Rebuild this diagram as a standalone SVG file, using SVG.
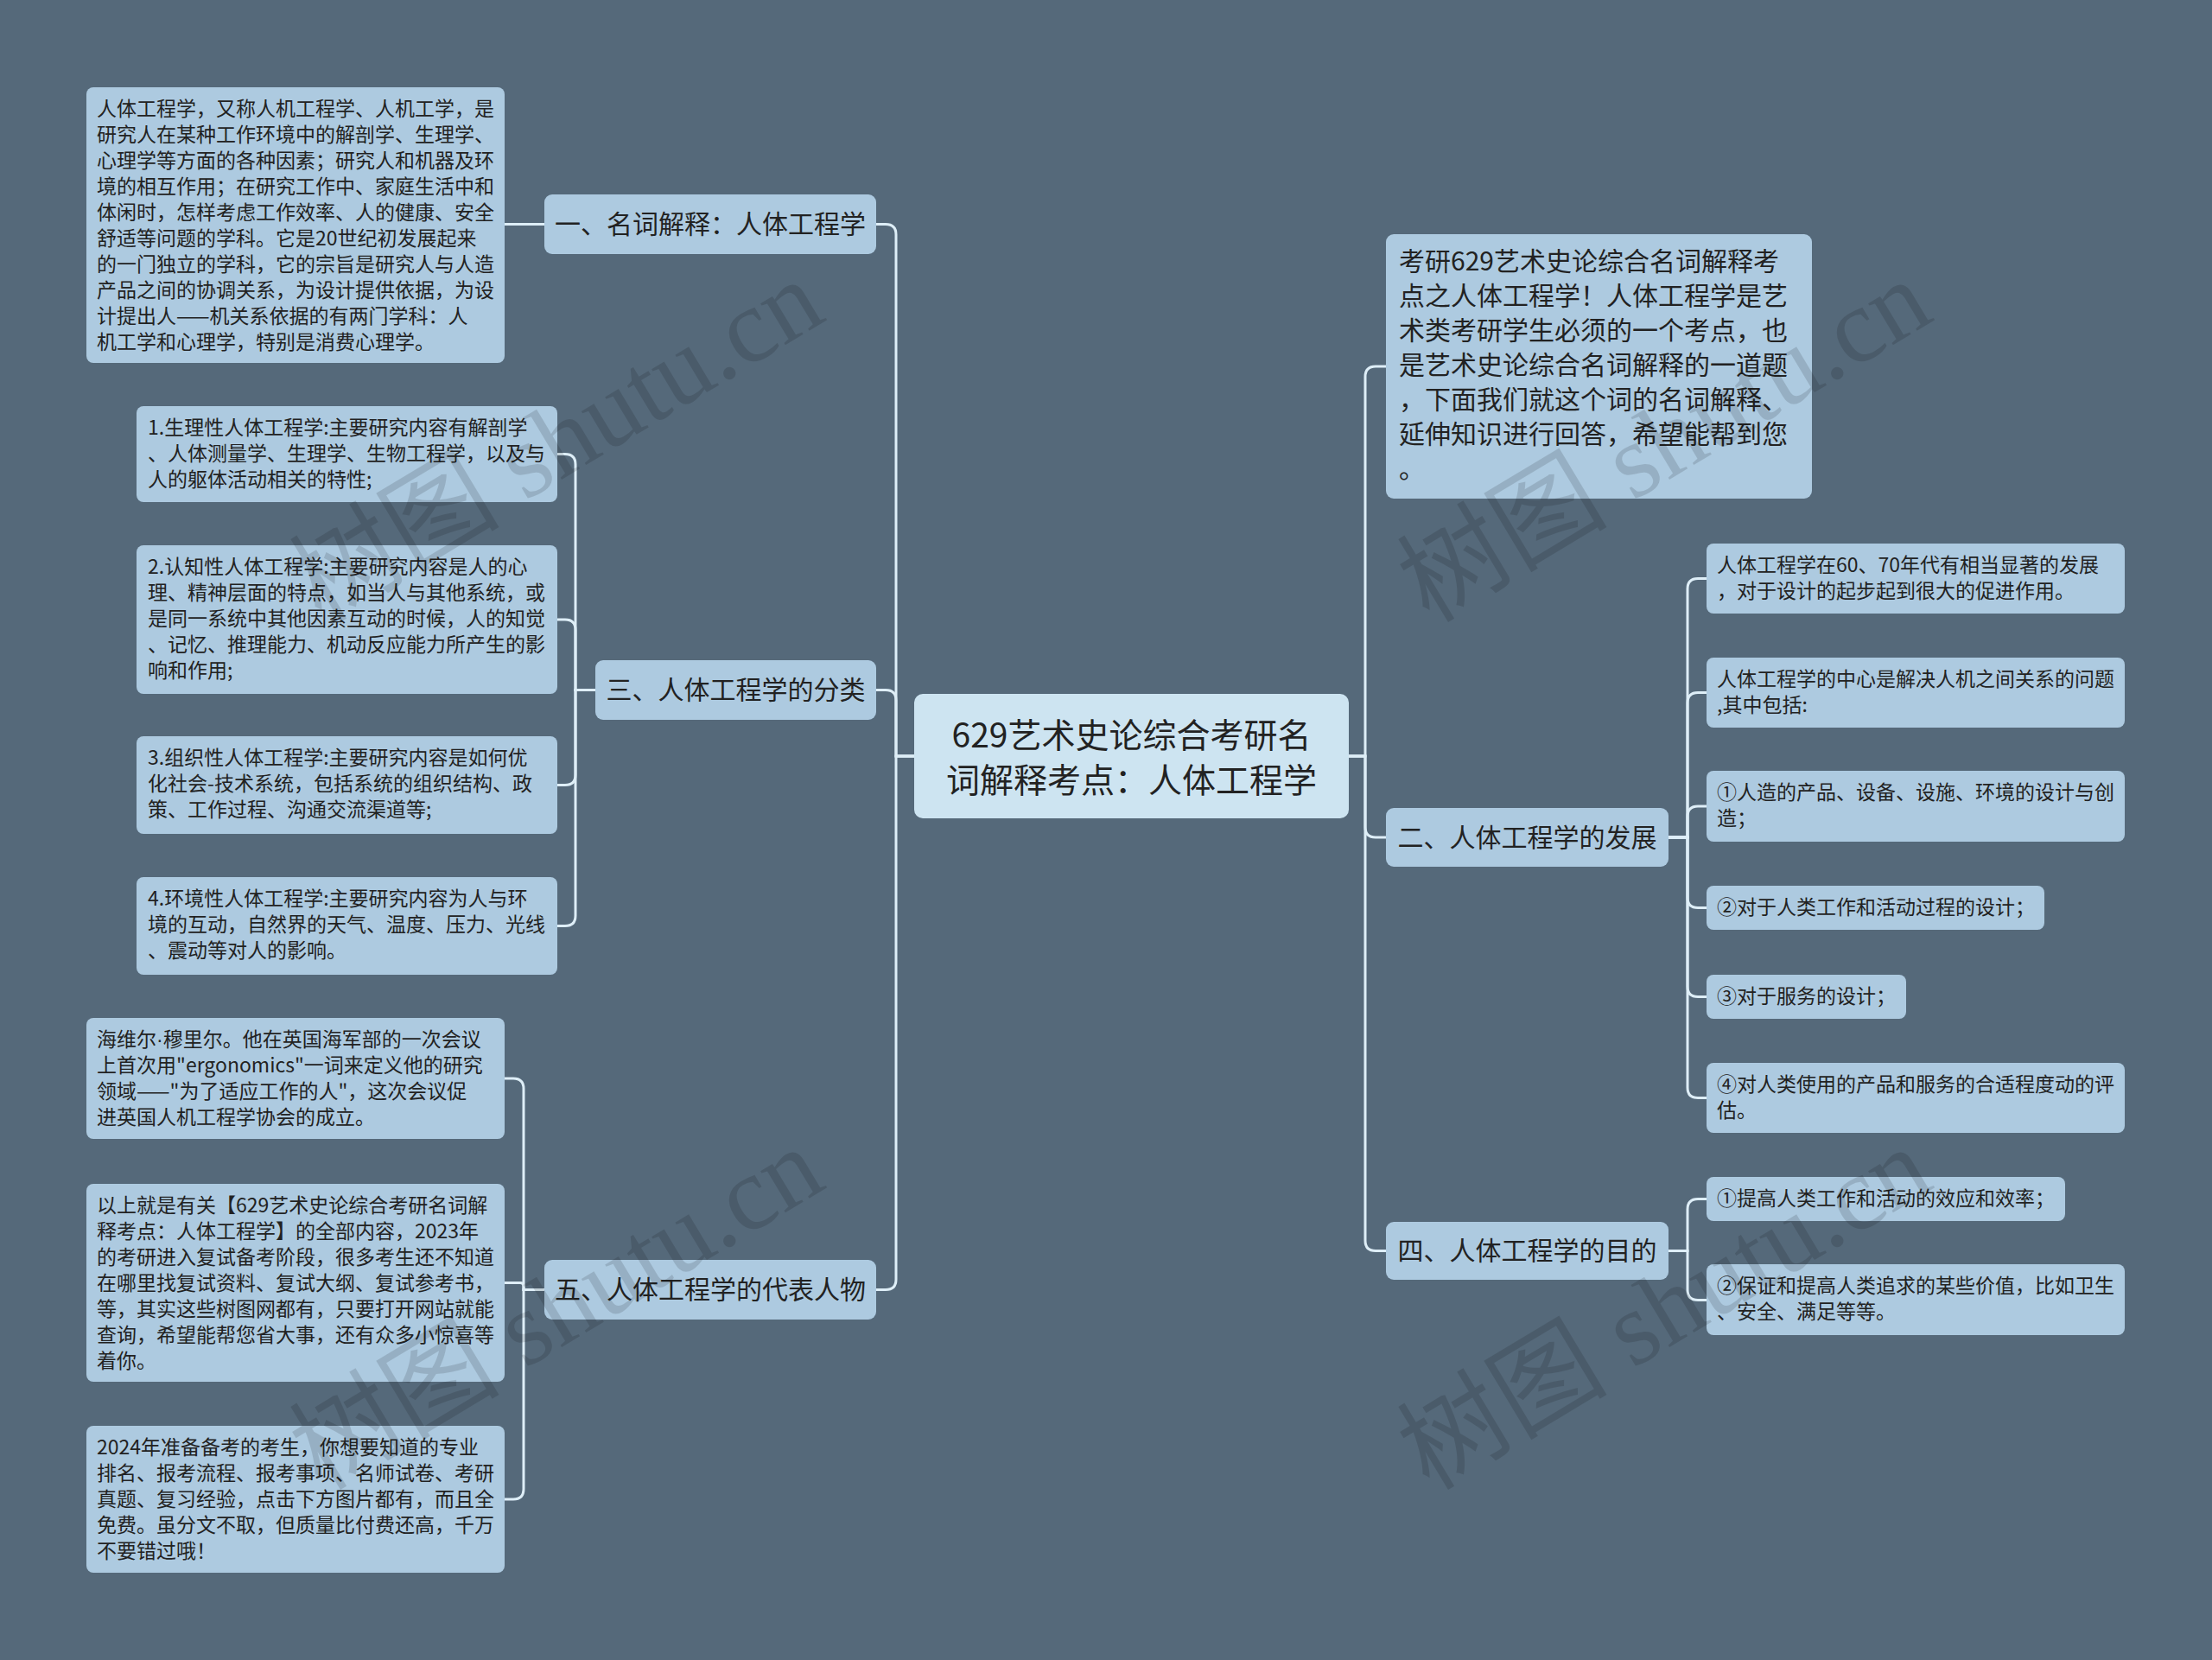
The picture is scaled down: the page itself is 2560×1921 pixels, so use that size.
<svg xmlns="http://www.w3.org/2000/svg" width="2560" height="1921" viewBox="0 0 2560 1921">
<style>
.conn{fill:none;stroke:#deeef7;stroke-width:3;stroke-linecap:round}
.n1{fill:#adcae0}
.leaf{fill:#adcae0}
.ctr{fill:#cde4f1}
.t{font-family:"Noto Sans CJK SC","Noto Sans",sans-serif;fill:#222222}
.t1{font-size:30px}
.t2{font-size:23px}
.tc{font-size:39px}
.lat{font-family:"Liberation Sans",sans-serif}
.wm{font-family:"Liberation Serif","Noto Sans CJK SC",serif;font-size:122px;fill:#000000;fill-opacity:0.13}
</style>
<rect x="0" y="0" width="2560" height="1921" fill="#55697a"/>
<g id="connectors">
<path class="conn" d="M1058,875 H1037 V271.5 Q1037,259.5 1025,259.5 H1014"/>
<path class="conn" d="M1058,875 H1037 V810.5 Q1037,798.5 1025,798.5 H1014"/>
<path class="conn" d="M1058,875 H1037 V1480.5 Q1037,1492.5 1025,1492.5 H1014"/>
<path class="conn" d="M1561,875 H1580 V436 Q1580,424 1592,424 H1604"/>
<path class="conn" d="M1561,875 H1580 V957 Q1580,969 1592,969 H1604"/>
<path class="conn" d="M1561,875 H1580 V1435.5 Q1580,1447.5 1592,1447.5 H1604"/>
<path class="conn" d="M630,259.5 H584"/>
<path class="conn" d="M689,798.5 H666 V537.5 Q666,525.5 654,525.5 H645"/>
<path class="conn" d="M689,798.5 H666 V729 Q666,717 654,717 H645"/>
<path class="conn" d="M689,798.5 H666 V896.5 Q666,908.5 654,908.5 H645"/>
<path class="conn" d="M689,798.5 H666 V1059.5 Q666,1071.5 654,1071.5 H645"/>
<path class="conn" d="M630,1492.5 H606 V1260 Q606,1248 594,1248 H584"/>
<path class="conn" d="M630,1492.5 H606 V1488.5 Q606,1484.5 602,1484.5 H584"/>
<path class="conn" d="M630,1492.5 H606 V1723 Q606,1735 594,1735 H584"/>
<path class="conn" d="M1931,969 H1953 V681.5 Q1953,669.5 1965,669.5 H1975"/>
<path class="conn" d="M1931,969 H1953 V813.5 Q1953,801.5 1965,801.5 H1975"/>
<path class="conn" d="M1931,969 H1953 V945 Q1953,933 1965,933 H1975"/>
<path class="conn" d="M1931,969 H1953 V1038.5 Q1953,1050.5 1965,1050.5 H1975"/>
<path class="conn" d="M1931,969 H1953 V1141.5 Q1953,1153.5 1965,1153.5 H1975"/>
<path class="conn" d="M1931,969 H1953 V1258.5 Q1953,1270.5 1965,1270.5 H1975"/>
<path class="conn" d="M1931,1447.5 H1953 V1399.5 Q1953,1387.5 1965,1387.5 H1975"/>
<path class="conn" d="M1931,1447.5 H1953 V1492.5 Q1953,1504.5 1965,1504.5 H1975"/>
</g>
<g id="center">
<rect class="ctr" x="1058" y="803" width="503" height="144" rx="10"/>
<text class="t tc" text-anchor="middle"><tspan x="1309.5" y="865">629艺术史论综合考研名</tspan><tspan x="1309.5" y="917">词解释考点：人体工程学</tspan></text>
</g>
<g id="n-yi">
<rect class="n1" x="630" y="225" width="384" height="69" rx="9"/>
<text class="t t1" x="822" y="270" text-anchor="middle">一、名词解释：人体工程学</text>
</g>
<g id="n-san">
<rect class="n1" x="689" y="764" width="325" height="69" rx="9"/>
<text class="t t1" x="851.5" y="809" text-anchor="middle">三、人体工程学的分类</text>
</g>
<g id="n-wu">
<rect class="n1" x="630" y="1458" width="384" height="69" rx="9"/>
<text class="t t1" x="822" y="1503" text-anchor="middle">五、人体工程学的代表人物</text>
</g>
<g id="n-intro">
<rect class="n1" x="1604" y="271" width="493" height="306" rx="9"/>
<text class="t t1"><tspan x="1619" y="313">考研629艺术史论综合名词解释考</tspan><tspan x="1619" dy="40">点之人体工程学！人体工程学是艺</tspan><tspan x="1619" dy="40">术类考研学生必须的一个考点，也</tspan><tspan x="1619" dy="40">是艺术史论综合名词解释的一道题</tspan><tspan x="1619" dy="40">，下面我们就这个词的名词解释、</tspan><tspan x="1619" dy="40">延伸知识进行回答，希望能帮到您</tspan><tspan x="1619" dy="40">。</tspan></text>
</g>
<g id="n-er">
<rect class="n1" x="1604" y="935" width="327" height="68" rx="9"/>
<text class="t t1" x="1767.5" y="979.5" text-anchor="middle">二、人体工程学的发展</text>
</g>
<g id="n-si">
<rect class="n1" x="1604" y="1414" width="327" height="67" rx="9"/>
<text class="t t1" x="1767.5" y="1458" text-anchor="middle">四、人体工程学的目的</text>
</g>
<g id="leaf-yi-1">
<rect class="leaf" x="100" y="101" width="484" height="319" rx="8"/>
<text class="t t2"><tspan x="112" y="134">人体工程学，又称人机工程学、人机工学，是</tspan><tspan x="112" dy="30">研究人在某种工作环境中的解剖学、生理学、</tspan><tspan x="112" dy="30">心理学等方面的各种因素；研究人和机器及环</tspan><tspan x="112" dy="30">境的相互作用；在研究工作中、家庭生活中和</tspan><tspan x="112" dy="30">体闲时，怎样考虑工作效率、人的健康、安全</tspan><tspan x="112" dy="30">舒适等问题的学科。它是20世纪初发展起来</tspan><tspan x="112" dy="30">的一门独立的学科，它的宗旨是研究人与人造</tspan><tspan x="112" dy="30">产品之间的协调关系，为设计提供依据，为设</tspan><tspan x="112" dy="30">计提出人——机关系依据的有两门学科：人</tspan><tspan x="112" dy="30">机工学和心理学，特别是消费心理学。</tspan></text>
</g>
<g id="leaf-san-1">
<rect class="leaf" x="158" y="470" width="487" height="111" rx="8"/>
<text class="t t2"><tspan x="171" y="503">1.生理性人体工程学:主要研究内容有解剖学</tspan><tspan x="171" dy="30">、人体测量学、生理学、生物工程学，以及与</tspan><tspan x="171" dy="30">人的躯体活动相关的特性;</tspan></text>
</g>
<g id="leaf-san-2">
<rect class="leaf" x="158" y="631" width="487" height="172" rx="8"/>
<text class="t t2"><tspan x="171" y="664">2.认知性人体工程学:主要研究内容是人的心</tspan><tspan x="171" dy="30">理、精神层面的特点，如当人与其他系统，或</tspan><tspan x="171" dy="30">是同一系统中其他因素互动的时候，人的知觉</tspan><tspan x="171" dy="30">、记忆、推理能力、机动反应能力所产生的影</tspan><tspan x="171" dy="30">响和作用;</tspan></text>
</g>
<g id="leaf-san-3">
<rect class="leaf" x="158" y="852" width="487" height="113" rx="8"/>
<text class="t t2"><tspan x="171" y="885">3.组织性人体工程学:主要研究内容是如何优</tspan><tspan x="171" dy="30">化社会-技术系统，包括系统的组织结构、政</tspan><tspan x="171" dy="30">策、工作过程、沟通交流渠道等;</tspan></text>
</g>
<g id="leaf-san-4">
<rect class="leaf" x="158" y="1015" width="487" height="113" rx="8"/>
<text class="t t2"><tspan x="171" y="1048">4.环境性人体工程学:主要研究内容为人与环</tspan><tspan x="171" dy="30">境的互动，自然界的天气、温度、压力、光线</tspan><tspan x="171" dy="30">、震动等对人的影响。</tspan></text>
</g>
<g id="leaf-wu-1">
<rect class="leaf" x="100" y="1178" width="484" height="140" rx="8"/>
<text class="t t2"><tspan x="112" y="1211">海维尔<tspan class="lat">·</tspan>穆里尔。他在英国海军部的一次会议</tspan><tspan x="112" dy="30">上首次用"ergonomics"一词来定义他的研究</tspan><tspan x="112" dy="30">领域——"为了适应工作的人"，这次会议促</tspan><tspan x="112" dy="30">进英国人机工程学协会的成立。</tspan></text>
</g>
<g id="leaf-wu-2">
<rect class="leaf" x="100" y="1370" width="484" height="229" rx="8"/>
<text class="t t2"><tspan x="112" y="1403">以上就是有关【629艺术史论综合考研名词解</tspan><tspan x="112" dy="30">释考点：人体工程学】的全部内容，2023年</tspan><tspan x="112" dy="30">的考研进入复试备考阶段，很多考生还不知道</tspan><tspan x="112" dy="30">在哪里找复试资料、复试大纲、复试参考书，</tspan><tspan x="112" dy="30">等，其实这些树图网都有，只要打开网站就能</tspan><tspan x="112" dy="30">查询，希望能帮您省大事，还有众多小惊喜等</tspan><tspan x="112" dy="30">着你。</tspan></text>
</g>
<g id="leaf-wu-3">
<rect class="leaf" x="100" y="1650" width="484" height="170" rx="8"/>
<text class="t t2"><tspan x="112" y="1683">2024年准备备考的考生，你想要知道的专业</tspan><tspan x="112" dy="30">排名、报考流程、报考事项、名师试卷、考研</tspan><tspan x="112" dy="30">真题、复习经验，点击下方图片都有，而且全</tspan><tspan x="112" dy="30">免费。虽分文不取，但质量比付费还高，千万</tspan><tspan x="112" dy="30">不要错过哦！</tspan></text>
</g>
<g id="leaf-er-1">
<rect class="leaf" x="1975" y="629" width="484" height="81" rx="8"/>
<text class="t t2"><tspan x="1987" y="662">人体工程学在60、70年代有相当显著的发展</tspan><tspan x="1987" dy="30">，对于设计的起步起到很大的促进作用。</tspan></text>
</g>
<g id="leaf-er-2">
<rect class="leaf" x="1975" y="761" width="484" height="81" rx="8"/>
<text class="t t2"><tspan x="1987" y="794">人体工程学的中心是解决人机之间关系的问题</tspan><tspan x="1987" dy="30">,其中包括:</tspan></text>
</g>
<g id="leaf-er-3">
<rect class="leaf" x="1975" y="892" width="484" height="82" rx="8"/>
<text class="t t2"><tspan x="1987" y="925">①人造的产品、设备、设施、环境的设计与创</tspan><tspan x="1987" dy="30">造；</tspan></text>
</g>
<g id="leaf-er-4">
<rect class="leaf" x="1975" y="1025" width="391" height="51" rx="8"/>
<text class="t t2" x="1987" y="1058">②对于人类工作和活动过程的设计；</text>
</g>
<g id="leaf-er-5">
<rect class="leaf" x="1975" y="1128" width="231" height="51" rx="8"/>
<text class="t t2" x="1987" y="1161">③对于服务的设计；</text>
</g>
<g id="leaf-er-6">
<rect class="leaf" x="1975" y="1230" width="484" height="81" rx="8"/>
<text class="t t2"><tspan x="1987" y="1263">④对人类使用的产品和服务的合适程度动的评</tspan><tspan x="1987" dy="30">估。</tspan></text>
</g>
<g id="leaf-si-1">
<rect class="leaf" x="1975" y="1362" width="415" height="51" rx="8"/>
<text class="t t2" x="1987" y="1395">①提高人类工作和活动的效应和效率；</text>
</g>
<g id="leaf-si-2">
<rect class="leaf" x="1975" y="1463" width="484" height="82" rx="8"/>
<text class="t t2"><tspan x="1987" y="1496">②保证和提高人类追求的某些价值，比如卫生</tspan><tspan x="1987" dy="30">、安全、满足等等。</tspan></text>
</g>
<g id="watermark">
<text class="wm" x="372" y="722" transform="rotate(-31 372 722)">树图 shutu.cn</text>
<text class="wm" x="1654" y="722" transform="rotate(-31 1654 722)">树图 shutu.cn</text>
<text class="wm" x="372" y="1726" transform="rotate(-31 372 1726)">树图 shutu.cn</text>
<text class="wm" x="1654" y="1726" transform="rotate(-31 1654 1726)">树图 shutu.cn</text>
</g>
</svg>
